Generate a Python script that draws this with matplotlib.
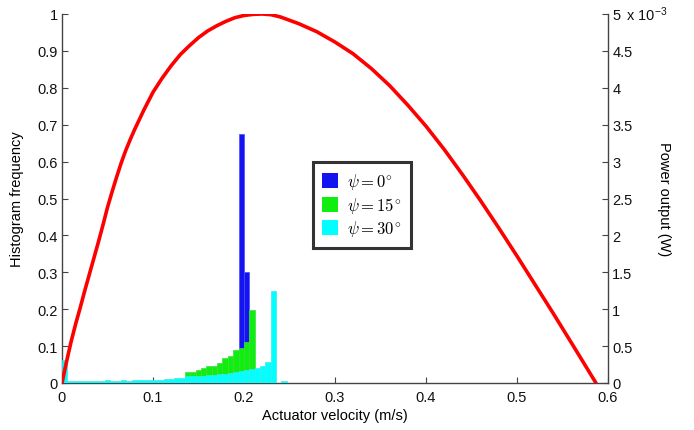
import matplotlib
matplotlib.use("Agg")
import matplotlib.pyplot as plt
from matplotlib.patches import Patch
from matplotlib.ticker import FuncFormatter

plt.rcParams['font.family'] = ['Liberation Sans', 'DejaVu Sans']
plt.rcParams['mathtext.fontset'] = 'cm'

# Histogram bin centres (m/s) and bin width
bin_centers = [0.0029, 0.0088, 0.0147, 0.0206, 0.0265, 0.0323, 0.0382, 0.0441,
               0.0500, 0.0559, 0.0617, 0.0676, 0.0735, 0.0794, 0.0853, 0.0911,
               0.0970, 0.1029, 0.1088, 0.1147, 0.1205, 0.1264, 0.1323, 0.1382,
               0.1441, 0.1499, 0.1558, 0.1617, 0.1676, 0.1735, 0.1793, 0.1852,
               0.1911, 0.1970, 0.2029, 0.2087, 0.2146, 0.2205, 0.2264, 0.2323,
               0.2381, 0.2440]
bin_width = 0.00588

# psi = 0 deg
blue_centers = [0.1970, 0.2029]
blue_freq = [0.675, 0.302]

# psi = 15 deg
green_centers = [0.1382, 0.1441, 0.1499, 0.1558, 0.1617, 0.1676, 0.1735,
                 0.1793, 0.1852, 0.1911, 0.1970, 0.2029, 0.2087]
green_freq = [0.029, 0.029, 0.034, 0.040, 0.047, 0.047, 0.054,
              0.067, 0.074, 0.089, 0.094, 0.112, 0.197]

# psi = 30 deg
cyan_freq = [0.063, 0.005, 0.005, 0.005, 0.005, 0.005, 0.005, 0.005,
             0.009, 0.005, 0.005, 0.009, 0.005, 0.007, 0.007, 0.007,
             0.007, 0.007, 0.009, 0.011, 0.011, 0.0145, 0.0145, 0.018,
             0.018, 0.018, 0.020, 0.022, 0.022, 0.024, 0.024, 0.027,
             0.029, 0.033, 0.034, 0.038, 0.040, 0.047, 0.058, 0.248,
             0.0, 0.005]

# Power curve vs actuator velocity (m/s); power in mW
power_v = [0.000, 0.005, 0.010, 0.015, 0.020, 0.025, 0.030, 0.035, 0.040, 0.045,
           0.050, 0.055, 0.060, 0.065, 0.070, 0.075, 0.080, 0.090, 0.100, 0.110,
           0.120, 0.130, 0.140, 0.150, 0.160, 0.170, 0.180, 0.190, 0.200, 0.210,
           0.220, 0.230, 0.240, 0.260, 0.280, 0.300, 0.320, 0.340, 0.360, 0.380,
           0.400, 0.420, 0.440, 0.460, 0.480, 0.500, 0.520, 0.540, 0.560, 0.5868]
power_mw = [0.00, 0.29, 0.56, 0.80, 1.02, 1.25, 1.47, 1.69, 1.91, 2.14,
            2.38, 2.59, 2.79, 2.98, 3.15, 3.30, 3.44, 3.70, 3.94, 4.13,
            4.30, 4.45, 4.57, 4.68, 4.77, 4.84, 4.90, 4.95, 4.98, 4.995,
            5.00, 4.99, 4.96, 4.87, 4.76, 4.62, 4.46, 4.26, 4.03, 3.765,
            3.48, 3.165, 2.825, 2.47, 2.10, 1.72, 1.33, 0.94, 0.54, 0.00]
power_w = [p * 1e-3 for p in power_mw]

x_ticks = [0, 0.1, 0.2, 0.3, 0.4, 0.5, 0.6]
left_ticks = [0, 0.1, 0.2, 0.3, 0.4, 0.5, 0.6, 0.7, 0.8, 0.9, 1]
right_ticks = [0, 0.5e-3, 1e-3, 1.5e-3, 2e-3, 2.5e-3, 3e-3, 3.5e-3, 4e-3, 4.5e-3, 5e-3]

c_blue = '#1414f0'
c_green = '#10ee10'
c_cyan = '#00ffff'
axis_col = '#444444'

fig = plt.figure(figsize=(6.94, 4.31), dpi=100)
ax = fig.add_axes([62/694, 1-384/431, (608-62)/694, (384-15)/431])
ax2 = ax.twinx()

ax.bar(blue_centers, blue_freq, width=bin_width, color=c_blue, edgecolor='#4a4aff', linewidth=0.5, zorder=2)
ax.bar(green_centers, green_freq, width=bin_width, color=c_green, edgecolor='#40dd40', linewidth=0.5, zorder=3)
ax.bar(bin_centers, cyan_freq, width=bin_width, color=c_cyan, edgecolor='#40e8e8', linewidth=0.5, zorder=4)

ax2.plot(power_v, power_w, color='#ff0000', lw=2.6, solid_capstyle='round',
         solid_joinstyle='round', zorder=5)

ax.set_xlim(0, 0.6)
ax.set_ylim(0, 1)
ax2.set_ylim(0, 5e-3)
ax.set_xticks(x_ticks)
ax.set_xticklabels(['0', '0.1', '0.2', '0.3', '0.4', '0.5', '0.6'])
ax.set_yticks(left_ticks)
ax.set_yticklabels(['0', '0.1', '0.2', '0.3', '0.4', '0.5', '0.6', '0.7', '0.8', '0.9', '1'])
ax2.set_yticks(right_ticks)
ax2.yaxis.set_major_formatter(FuncFormatter(lambda v, p: '%g' % round(v * 1000, 3)))

for a in (ax, ax2):
    a.spines['top'].set_visible(False)
    for s in a.spines.values():
        s.set_color(axis_col)
        s.set_linewidth(1.0)
    a.tick_params(direction='in', length=4, width=0.8, color=axis_col, labelsize=10.5,
                  labelcolor='#111111', pad=3)
ax.spines['right'].set_visible(False)
ax2.spines['left'].set_visible(False)
ax2.spines['bottom'].set_visible(False)
ax.tick_params(axis='x', pad=5)

ax.set_xlabel('Actuator velocity (m/s)', fontsize=10.5, labelpad=3)
ax.set_ylabel('Histogram frequency', fontsize=10.5, labelpad=10)
ax2.set_ylabel('Power output (W)', fontsize=10.5, rotation=-90, labelpad=28)

fig.text(626/694, 1-15/431, r'x 10$^{\mathregular{-3}}$', fontsize=10.5, va='center', ha='left',
         color='#111111')

handles = [Patch(facecolor=c_blue, edgecolor='none'),
           Patch(facecolor=c_green, edgecolor='none'),
           Patch(facecolor=c_cyan, edgecolor='none')]
labels = [r'$\psi = 0^{\circ}$', r'$\psi = 15^{\circ}$', r'$\psi = 30^{\circ}$']
leg = ax2.legend(handles, labels, loc='upper left', bbox_to_anchor=((313-62)/546, (384-163)/369),
                 fontsize=12, frameon=True, fancybox=False, handlelength=0.95, handleheight=1.0,
                 handletextpad=0.55, borderpad=0.55, labelspacing=0.22, borderaxespad=0)
leg.get_frame().set_edgecolor('black')
leg.get_frame().set_linewidth(2.2)
leg.set_zorder(10)

fig.savefig('out.png', dpi=100)
